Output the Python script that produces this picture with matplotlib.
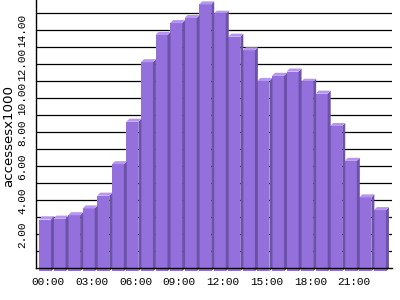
import matplotlib
matplotlib.use('Agg')
import matplotlib.pyplot as plt
from matplotlib.patches import Polygon

# hourly accesses (x1000)
hours = ['%02d:00' % h for h in range(24)]
accesses = [3.05, 3.1, 3.3, 3.7, 4.45, 6.3, 8.8, 12.3, 13.9, 14.6, 14.9, 15.7,
            15.15, 13.8, 13.0, 11.2, 11.5, 11.75, 11.15, 10.45, 8.55, 6.5, 4.35, 3.6]
ytick_vals = [2, 4, 6, 8, 10, 12, 14]

front_col = '#9370db'
side_col = '#6c52a8'
top_col = '#b794f6'

bar_w = 0.824   # front face width in bar units
dx = 0.206      # 3d depth, x
dy = 0.18       # 3d depth, y

fig = plt.figure(figsize=(4, 3), dpi=100)
ax = fig.add_axes([36 / 400, 31.7 / 300, 356 / 400, 268.3 / 300])

for v in range(1, 16):
    ax.axhline(v, color='black', lw=0.9, zorder=1)

xs = list(range(len(accesses)))
ax.bar(xs, [v for v in accesses], width=bar_w, bottom=-dy, align='edge',
       color=front_col, edgecolor='none', zorder=3, clip_on=False)

for x, v in zip(xs, accesses):
    top = v - dy + (v - dy) * 0 + 0
    h = v - dy
    side = Polygon([(x + bar_w, -dy), (x + bar_w + dx, 0), (x + bar_w + dx, h + dy),
                    (x + bar_w, h)], closed=True, color=side_col, lw=0, zorder=3, clip_on=False)
    lid = Polygon([(x, h), (x + dx, h + dy), (x + bar_w + dx, h + dy), (x + bar_w, h)],
                  closed=True, color=top_col, lw=0, zorder=3, clip_on=False)
    ax.add_patch(side)
    ax.add_patch(lid)

ax.set_xlim(-dx, 24.24)
ax.set_ylim(0, 15.78)

ax.set_xticks([x + 0.64 for x in xs[::3]])
ax.set_xticklabels(hours[::3], family='Liberation Mono', fontsize=8)
ax.set_yticks(ytick_vals)
ax.set_yticklabels(['%.2f' % v for v in ytick_vals], family='Liberation Mono',
                   fontsize=8, rotation=90, va='center')
ax.tick_params(axis='both', length=0, pad=6.5)

for s in ['top', 'right']:
    ax.spines[s].set_visible(False)
for s in ['left', 'bottom']:
    ax.spines[s].set_linewidth(1.0)
    ax.spines[s].set_zorder(4)

fig.text(9 / 400, 1 - 136 / 300, 'accessesx1000', rotation=90, ha='center',
         va='center', fontsize=9.6)

fig.savefig('out.png', dpi=100)
